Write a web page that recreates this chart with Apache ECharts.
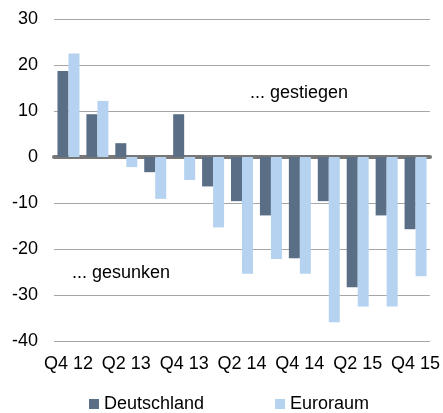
<!DOCTYPE html>
<html>
<head>
<meta charset="utf-8">
<script src="https://cdn.jsdelivr.net/npm/echarts@6/dist/echarts.min.js"></script>
<style>
html,body{margin:0;padding:0;background:#fff}
#chart{width:443px;height:413px}
</style>
</head>
<body>
<div id="chart"></div>
<script>
// Quartale
var quarters = ['Q4 12','Q1 13','Q2 13','Q3 13','Q4 13','Q1 14','Q2 14','Q3 14','Q4 14','Q1 15','Q2 15','Q3 15','Q4 15'];
var deutschland = [18.7, 9.3, 3.0, -3.3, 9.3, -6.4, -9.6, -12.7, -22.0, -9.6, -28.3, -12.7, -15.7];
var euroraum = [22.5, 12.2, -2.2, -9.1, -5.0, -15.3, -25.4, -22.2, -25.4, -35.9, -32.5, -32.5, -25.9];
var yTicks = [-40, 30, 10]; // min, max, interval

var font = 'Liberation Sans, Arial, sans-serif';
var chart = echarts.init(document.getElementById('chart'));

var option = {
	animation: false,
	textStyle: { fontFamily: font },
	grid: { left: 54, right: 11, top: 19, bottom: 72 },
	legend: {
		top: 390,
		left: 84,
		itemWidth: 10,
		itemHeight: 10,
		itemGap: 71,
		icon: 'rect',
		textStyle: { fontSize: 18, color: '#000', fontFamily: font },
		data: ['Deutschland', 'Euroraum']
	},
	xAxis: {
		type: 'category',
		data: quarters,
		axisLine: { onZero: true, lineStyle: { color: '#777', width: 4 } },
		axisTick: { show: false },
		axisLabel: { interval: 1, fontSize: 18, color: '#000', margin: 14, fontFamily: font }
	},
	yAxis: {
		type: 'value',
		min: yTicks[0],
		max: yTicks[1],
		interval: yTicks[2],
		axisLine: { show: false },
		axisTick: { show: false },
		axisLabel: { fontSize: 18, color: '#000', margin: 16, fontFamily: font },
		splitLine: { lineStyle: { color: '#a6a6a6', width: 1 } }
	},
	graphic: [
		{ type: 'text', left: 250, top: 84, style: { text: '... gestiegen', fontSize: 18, fill: '#000', fontFamily: font } },
		{ type: 'text', left: 72, top: 264, style: { text: '... gesunken', fontSize: 18, fill: '#000', fontFamily: font } }
	],
	series: [
		{
			name: 'Deutschland',
			type: 'bar',
			data: deutschland,
			barWidth: 11,
			barGap: '0%',
			itemStyle: { color: '#5a6f86' }
		},
		{
			name: 'Euroraum',
			type: 'bar',
			data: euroraum,
			barWidth: 11,
			itemStyle: { color: '#b5d3f0' }
		}
	]
};
chart.setOption(option);
</script>
</body>
</html>
